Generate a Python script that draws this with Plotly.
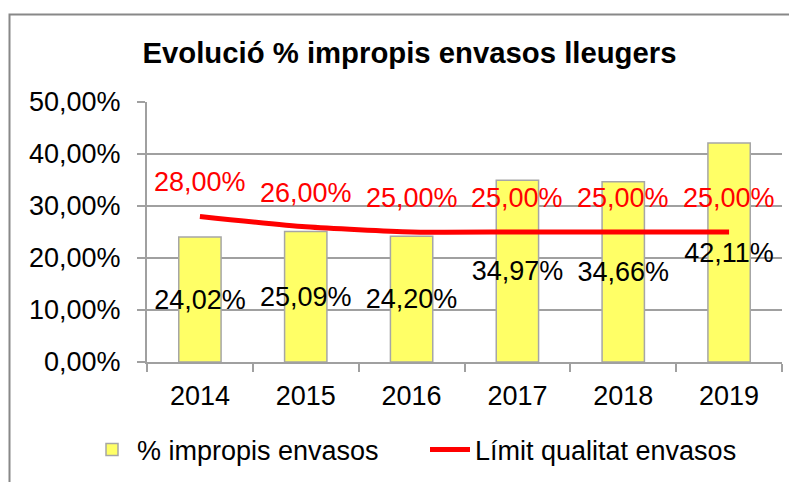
import plotly.graph_objects as go

years = ["2014", "2015", "2016", "2017", "2018", "2019"]
impropis = [24.02, 25.09, 24.20, 34.97, 34.66, 42.11]
limit = [28.00, 26.00, 25.00, 25.00, 25.00, 25.00]
y_ticks = [0, 10, 20, 30, 40, 50]
y_tick_labels = ["0,00%", "10,00%", "20,00%", "30,00%", "40,00%", "50,00%"]

FONT = "Liberation Sans, Arial, sans-serif"
FS = 27
GRID = "#a0a0a0"

# page body has an 8px margin; plot area (figure coords) 139..774 x 94..354
L, T, R, B = 139, 94, 774, 354
PW, PH = R - L, B - T


def pct(v):
    return f"{v:.2f}".replace(".", ",") + "%"


fig = go.Figure()
fig.add_trace(go.Bar(
    x=years, y=impropis, name="% impropis envasos",
    marker=dict(color="#ffff66", line=dict(color="#a6a6a6", width=1.5)),
    text=[pct(v) for v in impropis],
    textposition="inside", insidetextanchor="middle", textangle=0,
    constraintext="none",
    insidetextfont=dict(family=FONT, size=FS, color="black"),
    cliponaxis=False,
))
fig.add_trace(go.Scatter(
    x=years, y=limit, name="Límit qualitat envasos", mode="lines",
    line=dict(color="#ff0000", width=5, shape="spline", smoothing=0.6),
))

for i, v in enumerate(limit):
    fig.add_annotation(x=i, y=v, text=pct(v), showarrow=False,
                       yshift=34, font=dict(family=FONT, size=FS, color="#ff0000"))

fig.add_shape(type="rect", xref="paper", yref="paper",
              x0=(1.5 - L) / PW, x1=(810 - L) / PW,
              y0=(B - 500) / PH, y1=(B - 6.5) / PH,
              line=dict(color="#888888", width=2), layer="below")

fig.update_layout(
    width=797, height=482,
    margin=dict(l=L, r=797 - R, t=T, b=482 - B, autoexpand=False),
    paper_bgcolor="white", plot_bgcolor="white",
    font=dict(family=FONT, size=FS, color="black"),
    title=dict(text="<b>Evolució % impropis envasos lleugers</b>",
               x=401.5 / 797, xanchor="center", xref="container",
               y=1 - 45 / 482, yanchor="middle", yref="container",
               font=dict(family=FONT, size=29.3, color="black")),
    bargap=0.6,
    showlegend=True,
    legend=dict(orientation="h", x=(79 - L) / PW, xanchor="left",
                y=(B - 442) / PH, yanchor="middle",
                font=dict(family=FONT, size=FS, color="black"),
                itemwidth=40, entrywidth=283, entrywidthmode="pixels",
                traceorder="normal"),
    xaxis=dict(type="category", range=[-0.5, 5.5], showgrid=False, showline=True,
               linecolor=GRID, linewidth=2, ticks="outside",
               tickson="boundaries", ticklen=8, tickwidth=2, tickcolor=GRID,
               ticklabelstandoff=9, tickangle=0, automargin=False),
    yaxis=dict(range=[0, 50], tickvals=y_ticks, ticktext=y_tick_labels,
               showgrid=True, gridcolor=GRID, gridwidth=2,
               showline=True, linecolor=GRID, linewidth=2,
               ticks="outside", ticklen=8, tickwidth=2, tickcolor=GRID,
               ticklabelstandoff=11, zeroline=False, automargin=False),
)

fig.write_html("out.html")
